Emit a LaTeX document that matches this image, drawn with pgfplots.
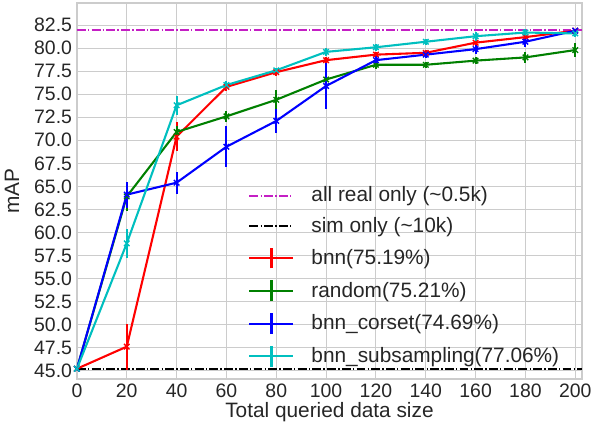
\documentclass[border=0pt]{standalone}
\usepackage{pgfplots}
\pgfplotsset{compat=1.18}
\usepackage{fontspec}
\setmainfont{Liberation Sans}
\definecolor{txt}{HTML}{262626}
\definecolor{gridc}{HTML}{CCCCCC}
\definecolor{allreal}{HTML}{C41FC4}
\definecolor{mplg}{rgb}{0,0.5,0}
\definecolor{mplc}{rgb}{0,0.75,0.75}
\pgfplotsset{
  errleg/.style={legend image code/.code={%
    \draw[##1,mark=none] (0pt,0pt) -- (31.7pt,0pt);
    \draw[##1,mark=none] (15.85pt,-7.5pt) -- (15.85pt,7.5pt);}},
  ddleg/.style={legend image code/.code={%
    \draw[##1,solid,line cap=butt,line width=1.3pt] (0pt,0pt) -- (6.4pt,0pt) (8pt,0pt) -- (9pt,0pt)
      (10.6pt,0pt) -- (17pt,0pt) (18.6pt,0pt) -- (19.6pt,0pt)
      (21.2pt,0pt) -- (27.6pt,0pt) (29.2pt,0pt) -- (30.2pt,0pt);}},
  ser/.style={line width=1.5pt, line join=round, mark=x, mark size=2.8pt,
    mark options={solid,line width=1pt}, errleg,
    error bars/y dir=both, error bars/y explicit, error bars/error mark=none,
    error bars/error bar style={line width=1.5pt}},
  ddash/.style={line width=1.1pt, dash pattern=on 6.4pt off 1.6pt on 1pt off 1.6pt, ddleg},
}
\newcommand{\lt}[1]{\textcolor{txt}{#1}}
\begin{document}
\begin{tikzpicture}
\path[use as bounding box] (-55.4pt,-32.9pt) rectangle (371pt,272.9pt);
\begin{axis}[at={(0,0)}, anchor=south west, scale only axis,
  width=363.8pt, height=270.7pt,
  xmin=0, xmax=202.7, ymin=44.1, ymax=84.9,
  xtick={0,20,40,60,80,100,120,140,160,180,200},
  ytick={45,47.5,50,52.5,55,57.5,60,62.5,65,67.5,70,72.5,75,77.5,80,82.5},
  yticklabel style={/pgf/number format/.cd, fixed, fixed zerofill, precision=1},
  /pgf/number format/assume math mode=true,
  tick label style={font=\fontsize{14}{16}\selectfont, text=txt},
  major tick length=0pt,
  grid=major, major grid style={gridc, line width=0.8pt},
  axis line style={gridc, line width=1pt},
  xlabel={Total queried data size}, ylabel={mAP},
  label style={font=\fontsize{15}{18}\selectfont, text=txt},
  xlabel style={at={(axis description cs:0.5,-0.088)}, anchor=center},
  ylabel style={at={(axis description cs:-0.1286,0.5)}, anchor=center},
  legend cell align=left,
  legend style={draw=none, fill=none, at={(axis description cs:0.339,0.516)},
    anchor=north west, inner sep=0pt, row sep=7.1pt, column sep=12.2pt,
    font=\fontsize{15}{18}\selectfont,
    nodes={inner sep=0pt, text height=12pt, text depth=3pt}},
]
\addplot[allreal, ddash] coordinates {(0,82.0) (202.7,82.0)};
\addlegendentry{\lt{all real only (\textasciitilde0.5k)}}
\addplot[black, ddash] coordinates {(0,45.2) (202.7,45.2)};
\addlegendentry{\lt{sim only (\textasciitilde10k)}}

\addplot[color=red, ser] coordinates {
(0,45.2) +- (0,0)
(20,47.6) +- (0,2.5)
(40,70.4) +- (0,1.6)
(60,75.8) +- (0,0.5)
(80,77.4) +- (0,0.4)
(100,78.7) +- (0,0.3)
(120,79.3) +- (0,0.3)
(140,79.5) +- (0,0.3)
(160,80.6) +- (0,0.4)
(180,81.2) +- (0,0.5)
(200,81.9) +- (0,0.2)
};
\addlegendentry{\lt{bnn(75.19\%)}}

\addplot[color=mplg, ser] coordinates {
(0,45.2) +- (0,0)
(20,63.9) +- (0,1.6)
(40,70.9) +- (0,0.7)
(60,72.6) +- (0,0.6)
(80,74.4) +- (0,1.1)
(100,76.6) +- (0,0.4)
(120,78.2) +- (0,0.5)
(140,78.2) +- (0,0.3)
(160,78.65) +- (0,0.4)
(180,79.0) +- (0,0.6)
(200,79.8) +- (0,0.8)
};
\addlegendentry{\lt{random(75.21\%)}}

\addplot[color=blue, ser] coordinates {
(0,45.2) +- (0,0)
(20,64.1) +- (0,1.4)
(40,65.4) +- (0,1.2)
(60,69.3) +- (0,2.2)
(80,72.1) +- (0,1.35)
(100,75.9) +- (0,2.45)
(120,78.7) +- (0,0.4)
(140,79.3) +- (0,0.4)
(160,79.9) +- (0,0.5)
(180,80.7) +- (0,0.6)
(200,81.9) +- (0,0.2)
};
\addlegendentry{\lt{bnn\_corset(74.69\%)}}

\addplot[color=mplc, ser] coordinates {
(0,45.2) +- (0,0)
(20,58.8) +- (0,1.6)
(40,73.8) +- (0,1.0)
(60,76.0) +- (0,0.4)
(80,77.6) +- (0,0.3)
(100,79.6) +- (0,0.4)
(120,80.1) +- (0,0.4)
(140,80.7) +- (0,0.3)
(160,81.3) +- (0,0.5)
(180,81.7) +- (0,0.4)
(200,81.6) +- (0,0.4)
};
\addlegendentry{\lt{bnn\_subsampling(77.06\%)}}
\end{axis}
\end{tikzpicture}
\end{document}
